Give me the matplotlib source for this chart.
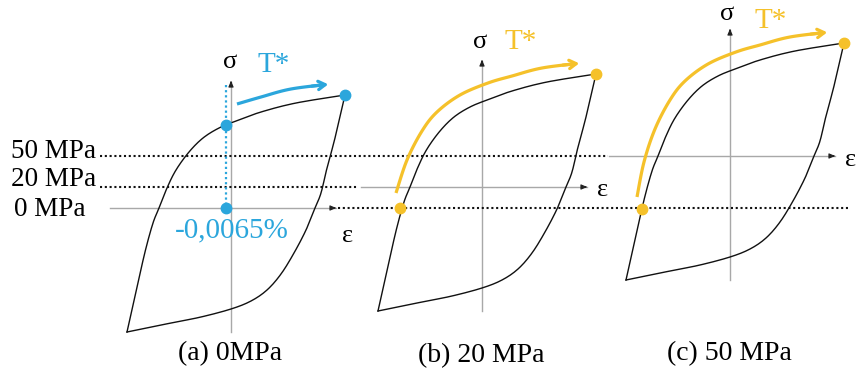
import numpy as np
import matplotlib
matplotlib.use("Agg")
import matplotlib.pyplot as plt

# hysteresis loop shape, relative to each panel's axis origin (x right, y up, pixel-ish units)
upper_x = [-104, -92, -85, -78, -72, -64, -55, -42, -28, -12, 5, 30, 65, 114]
upper_y = [-124, -70, -40, -15, 0, 20, 38, 56, 70, 80, 87, 96, 105, 113]
lower_x = [114, 104, 96, 90, 84, 75, 63, 50, 36, 20, 0, -30, -60, -104]
lower_y = [113, 70, 40, 15, 0, -22, -45, -66, -82, -93, -101, -109, -115, -124]

# T* arrow path (same relative frame)
tpath_x = [-93, -86, -75, -60, -45, -22, 6, 30, 60, 100]
tpath_y = [-41, -6, 27, 56, 75, 92, 104, 111, 119, 124]

panels = ["(a) 0MPa", "(b) 20 MPa", "(c) 50 MPa"]
origin_x = [231, 482, 730]
origin_y = [208, 187, 156]
tstart = [6, 1, 0]          # index into T* path where the arrow starts
pt_x = [-5, -82, -88]       # marked point on the loading branch
pt_y = [83, -21, -53]

levels = ["0 MPa", "20 MPa", "50 MPa"]
level_y = [208, 187, 156]
strain_a = "-0,0065%"

blue = "#2ba6dc"
yellow = "#f5c12a"


def smooth(xs, ys, n=12):
    # catmull-rom through the control points
    p = np.column_stack([xs, ys]).astype(float)
    p = np.vstack([p[0], p, p[-1]])
    out = []
    for i in range(1, len(p) - 2):
        p0, p1, p2, p3 = p[i - 1], p[i], p[i + 1], p[i + 2]
        for t in np.linspace(0, 1, n, endpoint=False):
            out.append(0.5 * ((2 * p1) + (-p0 + p2) * t
                              + (2 * p0 - 5 * p1 + 4 * p2 - p3) * t ** 2
                              + (-p0 + 3 * p1 - 3 * p2 + p3) * t ** 3))
    out.append(p[-2])
    out = np.array(out)
    return out[:, 0], out[:, 1]


plt.rcParams['font.family'] = ['Liberation Serif', 'DejaVu Serif']
fig = plt.figure(figsize=(8.58, 3.73), dpi=100)
ax = fig.add_axes([0, 0, 1, 1])
ax.set_xlim(0, 858)
ax.set_ylim(373, 0)
ax.axis("off")

grey = "#a8a8a8"
dot = dict(color="#111111", lw=1.5, ls=(0, (1, 1.3)))

# dotted stress levels
ax.plot([100, 608], [level_y[2]] * 2, **dot, zorder=3)
ax.plot([100, 358], [level_y[1]] * 2, **dot, zorder=3)
ax.plot([338, 848], [level_y[0]] * 2, **dot, zorder=3)

ax.text(11, 152, levels[2], fontsize=19.5, ha="left", va="center")
ax.text(11, 180, levels[1], fontsize=19.5, ha="left", va="center")
ax.text(14, 209, levels[0], fontsize=19.5, ha="left", va="center")

for i in range(3):
    ox, oy = origin_x[i], origin_y[i]
    # axes
    ax.plot([ox - 121, ox + 105], [oy, oy], color=grey, lw=1, zorder=1)
    ax.annotate("", xy=(ox + 108, oy), xytext=(ox + 100, oy),
                arrowprops=dict(arrowstyle="-|>,head_length=0.35,head_width=0.15",
                                color="#222222", lw=0.8))
    ax.plot([ox, ox], [oy + 124, oy - 126], color=grey, lw=1, zorder=1)
    ax.annotate("", xy=(ox, oy - 130), xytext=(ox, oy - 122),
                arrowprops=dict(arrowstyle="-|>,head_length=0.35,head_width=0.15",
                                color="#222222", lw=0.8))

    # loop
    ux, uy = smooth(upper_x, upper_y)
    lx, ly = smooth(lower_x, lower_y)
    ax.plot(ox + ux, oy - uy, color="#111111", lw=1.0, zorder=2)
    ax.plot(ox + lx, oy - ly, color="#111111", lw=1.0, zorder=2)

    c = blue if i == 0 else yellow
    # T* arrow
    tx, ty = smooth(tpath_x[tstart[i]:], tpath_y[tstart[i]:])
    ax.plot(ox + tx[:-3], oy - ty[:-3], color=c, lw=2.3, solid_capstyle="butt", zorder=4)
    ax.annotate("", xy=(ox + tx[-1], oy - ty[-1]), xytext=(ox + tx[-8], oy - ty[-8]),
                arrowprops=dict(arrowstyle="->,head_length=0.5,head_width=0.3",
                                color=c, lw=2.3), zorder=4)

    # points
    ax.plot(ox + upper_x[-1], oy - upper_y[-1], "o", ms=7.5, color=c, zorder=5)
    ax.plot(ox + pt_x[i], oy - pt_y[i], "o", ms=7.5, color=c, zorder=5)

    ax.text(ox - 1, 354 + (2 if i == 1 else 0), panels[i], fontsize=20, ha="center", va="center")

# labels
ax.text(230, 62, "σ", fontsize=19, ha="center", va="center")
ax.text(480, 42, "σ", fontsize=19, ha="center", va="center")
ax.text(727, 14, "σ", fontsize=19, ha="center", va="center")
ax.text(274, 65, "T*", fontsize=21, color=blue, ha="center", va="center")
ax.text(521, 42, "T*", fontsize=21, color=yellow, ha="center", va="center")
ax.text(771, 21, "T*", fontsize=21, color=yellow, ha="center", va="center")
ax.text(348, 236, "ε", fontsize=19, ha="center", va="center")
ax.text(603, 190, "ε", fontsize=19, ha="center", va="center")
ax.text(851, 160, "ε", fontsize=19, ha="center", va="center")

# strain marker in panel (a): drop from the loop down to 0 MPa
sx = origin_x[0] + pt_x[0]
ax.plot([sx, sx], [85, origin_y[0]], color=blue, lw=1.6, ls=(0, (1, 1.3)), zorder=3)
ax.plot(sx, origin_y[0], "o", ms=7.5, color=blue, zorder=5)
ax.text(232, 230, strain_a, fontsize=21, color=blue, ha="center", va="center")

fig.savefig("out.png", dpi=100)
